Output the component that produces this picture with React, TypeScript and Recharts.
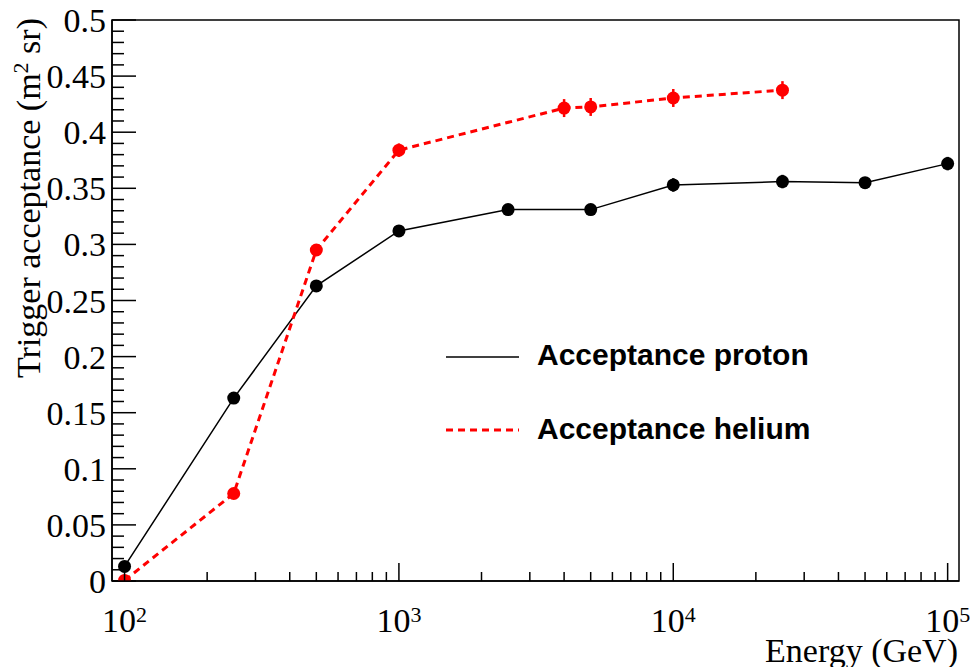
import {
  LineChart,
  Line,
  XAxis,
  YAxis,
  ErrorBar,
  Legend,
  ReferenceArea,
} from "recharts";

const protonEnergy = [100, 250, 500, 1000, 2500, 5000, 10000, 25000, 50000, 100000];
const protonAcc = [0.013, 0.163, 0.263, 0.312, 0.331, 0.331, 0.353, 0.356, 0.355, 0.372];
const protonErr = [0.002, 0.002, 0.003, 0.005, 0.005, 0.005, 0.006, 0.006, 0.003, 0.006];

const heliumEnergy = [100, 250, 500, 1000, 4000, 5000, 10000, 25000];
const heliumAcc = [0.0005, 0.078, 0.295, 0.384, 0.4215, 0.4225, 0.4305, 0.4375];
const heliumErr = [0.001, 0.002, 0.003, 0.006, 0.008, 0.008, 0.008, 0.008];

const seriesNames = ["Acceptance proton", "Acceptance helium"];

const xDomain = [90, 110000];
const yDomain = [0, 0.5];
const decades = [100, 1000, 10000];
const xTicks = decades.flatMap((d) => [1, 2, 3, 4, 5, 6, 7, 8, 9].map((m) => m * d)).concat([100000]);
const yTicks = Array.from({ length: 51 }, (_, i) => Number((i * 0.01).toFixed(2)));

// one table on the union of energies, gaps bridged with connectNulls
const energies = Array.from(new Set([...protonEnergy, ...heliumEnergy])).sort((a, b) => a - b);
const data = energies.map((e) => {
  const p = protonEnergy.indexOf(e);
  const h = heliumEnergy.indexOf(e);
  return {
    e,
    proton: p >= 0 ? protonAcc[p] : null,
    protonErr: p >= 0 ? protonErr[p] : null,
    helium: h >= 0 ? heliumAcc[h] : null,
    heliumErr: h >= 0 ? heliumErr[h] : null,
  };
});

const serif = "'Liberation Serif', 'Times New Roman', serif";
const sans = "'Liberation Sans', Arial, sans-serif";

function XTick({ x, y, payload }: any) {
  const v = payload.value;
  const exp = Math.log10(v);
  const major = Math.abs(exp - Math.round(exp)) < 1e-6;
  return (
    <g>
      <line x1={x} x2={x} y1={y} y2={y - (major ? 18 : 9)} stroke="#000" strokeWidth={1.5} />
      {major && (
        <text x={x} y={y + 51} textAnchor="middle" fontFamily={serif} fontSize={34} fill="#000">
          10
          <tspan dy={-10} fontSize={22}>{Math.round(exp)}</tspan>
        </text>
      )}
    </g>
  );
}

function YTick({ x, y, payload }: any) {
  const v = payload.value;
  const major = Math.abs(v * 20 - Math.round(v * 20)) < 1e-6;
  return (
    <g>
      <line x1={x} x2={x + (major ? 24 : 12)} y1={y} y2={y} stroke="#000" strokeWidth={1.5} />
      {major && (
        <text x={x - 6} y={y + 12} textAnchor="end" fontFamily={serif} fontSize={34} fill="#000">
          {String(Number(v.toFixed(2)))}
        </text>
      )}
    </g>
  );
}

function YTitle({ viewBox }: any) {
  const tx = viewBox.x + 40;
  const ty = viewBox.y - 2;
  return (
    <text
      x={tx}
      y={ty}
      transform={`rotate(-90, ${tx}, ${ty})`}
      textAnchor="end"
      fontFamily={serif}
      fontSize={34}
      fill="#000"
    >
      Trigger acceptance (m
      <tspan dy={-12} fontSize={22}>2</tspan>
      <tspan dy={12}> sr)</tspan>
    </text>
  );
}

function XTitle({ viewBox }: any) {
  return (
    <text
      x={viewBox.x + viewBox.width - 1}
      y={viewBox.y + 81}
      textAnchor="end"
      fontFamily={serif}
      fontSize={34}
      fill="#000"
    >
      Energy (GeV)
    </text>
  );
}

function LegendBox({ payload }: any) {
  const items = [...(payload || [])].sort(
    (a: any, b: any) => seriesNames.indexOf(a.value) - seriesNames.indexOf(b.value)
  );
  return (
    <svg width={420} height={120}>
      {items.map((p: any, i: number) => (
        <g key={p.value}>
          <line
            x1={6}
            x2={79}
            y1={27 + i * 73}
            y2={27 + i * 73}
            stroke={p.color}
            strokeWidth={p.payload?.strokeWidth ?? 1.5}
            strokeDasharray={p.payload?.strokeDasharray}
          />
          <text x={97} y={35 + i * 74} fontFamily={sans} fontWeight="bold" fontSize={30} fill="#000">
            {p.value}
          </text>
        </g>
      ))}
    </svg>
  );
}

export default function App() {
  return (
    <div style={{ position: "absolute", left: 0, top: 0, background: "#fff" }}>
      <LineChart width={970} height={667} data={data} margin={{ top: 20, right: 11, bottom: 0, left: 0 }}>
        <XAxis
          dataKey="e"
          type="number"
          scale="log"
          domain={xDomain}
          allowDataOverflow
          ticks={xTicks}
          interval={0}
          tickSize={0}
          tickMargin={0}
          tickLine={false}
          tick={<XTick />}
          height={86}
          axisLine={{ stroke: "#000", strokeWidth: 1.5 }}
          label={<XTitle />}
        />
        <YAxis
          type="number"
          domain={yDomain}
          allowDataOverflow
          ticks={yTicks}
          interval={0}
          tickSize={0}
          tickMargin={0}
          tickLine={false}
          tick={<YTick />}
          width={112}
          axisLine={{ stroke: "#000", strokeWidth: 1.5 }}
          label={<YTitle />}
        />
        <ReferenceArea x1={xDomain[0]} x2={xDomain[1]} y1={yDomain[0]} y2={yDomain[1]} fill="none" stroke="#000" strokeWidth={1.5} />
        <Legend
          layout="vertical"
          align="center"
          verticalAlign="middle"
          wrapperStyle={{ left: 440, top: 330, width: 420 }}
          content={<LegendBox />}
        />
        <Line
          dataKey="proton"
          name={seriesNames[0]}
          stroke="#000"
          strokeWidth={1.5}
          connectNulls
          dot={{ r: 6.5, fill: "#000", stroke: "none" }}
          isAnimationActive={false}
        >
          <ErrorBar dataKey="protonErr" direction="y" width={0} stroke="#000" strokeWidth={2.5} />
        </Line>
        <Line
          dataKey="helium"
          name={seriesNames[1]}
          stroke="#ff0000"
          strokeWidth={3}
          strokeDasharray="7 5"
          connectNulls
          dot={{ r: 6.5, fill: "#ff0000", stroke: "none", strokeDasharray: "" }}
          isAnimationActive={false}
        >
          <ErrorBar dataKey="heliumErr" direction="y" width={0} stroke="#ff0000" strokeWidth={2.5} />
        </Line>
      </LineChart>
    </div>
  );
}
